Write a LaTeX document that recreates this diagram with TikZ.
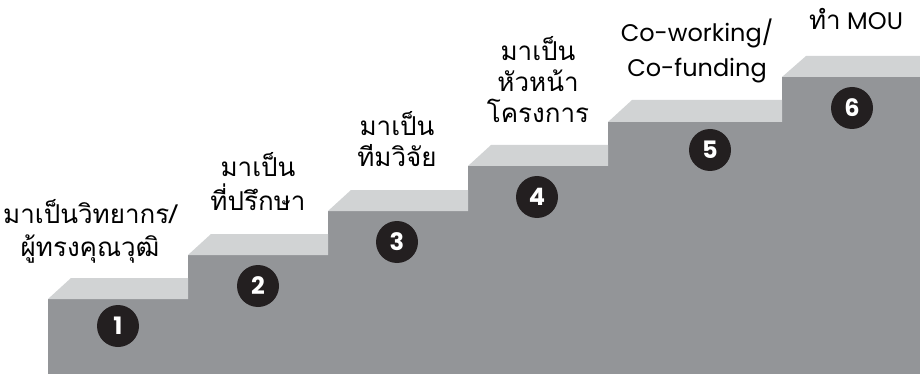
\documentclass[tikz,border=0pt]{standalone}
\usepackage{fontspec}
\setmainfont{Poppins}
\newfontfamily\thaifont[Script=Thai]{Loma}
\usetikzlibrary{calc}
\definecolor{stepfront}{HTML}{939598}
\definecolor{steptop}{HTML}{D1D3D4}
\definecolor{stepdot}{HTML}{231F20}
\tikzstyle{stepnum} = [circle,fill=stepdot,text=white,font=\fontsize{24}{26}\selectfont\bfseries,minimum size=42pt,inner sep=0pt,outer sep=0pt]
\tikzstyle{steplabel} = [align=center,anchor=base,inner sep=0pt,font=\fontsize{26}{31}\selectfont\thaifont]
\tikzstyle{steptopface} = [fill=steptop,draw=none]

\begin{document}
\begin{tikzpicture}[x=1pt,y=-1pt]
	\useasboundingbox (0,0) rectangle (920,374);
	
	%% front of the stairs
	\fill[stepfront] (48,374) -- (48,299) -- (188,299) -- (188,255) -- (328,255) -- (328,211) -- (468,211) -- (468,166)
		-- (608,166) -- (608,122) -- (782,122) -- (782,77) -- (920,77) -- (920,374) -- cycle;
	
	%% top faces
	\fill[steptopface] (48,299) -- (71,278) -- (188,278) -- (188,299) -- cycle;
	\fill[steptopface] (188,255) -- (211,234) -- (328,234) -- (328,255) -- cycle;
	\fill[steptopface] (328,211) -- (351,190) -- (468,190) -- (468,211) -- cycle;
	\fill[steptopface] (468,166) -- (491,145) -- (608,145) -- (608,166) -- cycle;
	\fill[steptopface] (608,122) -- (632,100) -- (782,100) -- (782,122) -- cycle;
	\fill[steptopface] (782,77) -- (806,56) -- (920,56) -- (920,77) -- cycle;
	
	%% numbers
	\node[stepnum] (n1) at (118,326) {1}; \node[stepnum] (n2) at (258,286) {2}; \node[stepnum] (n3) at (397,242) {3};
	\node[stepnum] (n4) at (537,197) {4}; \node[stepnum] (n5) at (710,150) {5}; \node[stepnum] (n6) at (852,108) {6};
	
	%% labels
	\node[steplabel,font=\fontsize{26}{33}\selectfont\thaifont] (l1) at (90,256) {มาเป็นวิทยากร/\\ผู้ทรงคุณวุฒิ};
	\node[steplabel,font=\fontsize{26}{33}\selectfont\thaifont] (l2) at (258,210) {มาเป็น\\ที่ปรึกษา};
	\node[steplabel] (l3) at (397,167) {มาเป็น\\ทีมวิจัย};
	\node[steplabel] (l4) at (538,123) {มาเป็น\\หัวหน้า\\โครงการ};
	\node[steplabel,font=\fontsize{24}{35}\selectfont] (l5) at (697,77) {Co-working/\\Co-funding};
	\node[steplabel,font=\fontsize{24}{30}\selectfont] (l6) at (856,30) {{\thaifont\fontsize{26}{30}\selectfont ทำ} MOU};
\end{tikzpicture}
\end{document}
